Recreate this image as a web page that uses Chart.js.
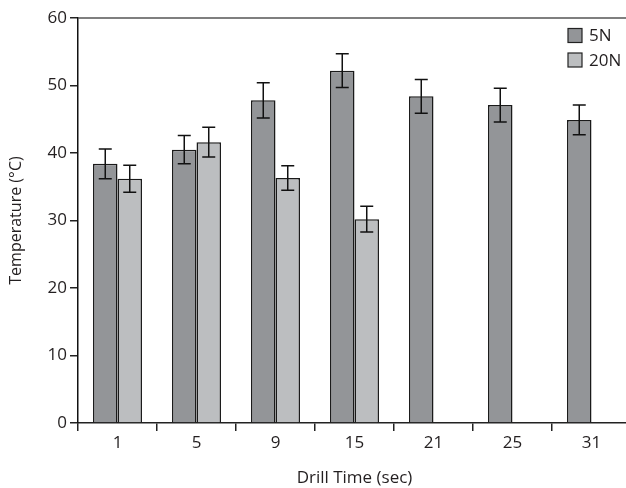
<!DOCTYPE html>
<html>
<head>
<meta charset="utf-8">
<script src="https://cdn.jsdelivr.net/npm/chart.js@4/dist/chart.umd.min.js"></script>
<style>
  html, body { margin: 0; padding: 0; background: #fff; overflow: hidden; }
  /* the original plot runs a few pixels past the right edge of the picture */
  #wrap { width: 631px; height: 488px; }
</style>
</head>
<body>
<div id="wrap"><canvas id="chart"></canvas></div>
<script>
// chart data
const drillTimes = ['1', '5', '9', '15', '21', '25', '31'];
const temp5N = [38.4, 40.5, 47.8, 52.2, 48.4, 47.1, 44.9];
const err5N = [2.2, 2.1, 2.6, 2.5, 2.5, 2.5, 2.2];
const temp20N = [36.2, 41.6, 36.3, 30.2, null, null, null];
const err20N = [2.0, 2.2, 1.8, 1.9, null, null, null];
const yTicks = [0, 10, 20, 30, 40, 50, 60];

const fontFamily = '"Open Sans", "Noto Sans", sans-serif';
const textColor = '#231f20';

// error bars drawn on top of the bars
const errorBars = {
    id: 'errorBars',
    afterDatasetsDraw(chart) {
        const ctx = chart.ctx;
        const yScale = chart.scales.y;
        chart.data.datasets.forEach((ds, i) => {
            const meta = chart.getDatasetMeta(i);
            meta.data.forEach((bar, j) => {
                const v = ds.data[j];
                const e = ds.errors[j];
                if (v == null || e == null) return;
                const top = yScale.getPixelForValue(v + e);
                const bottom = yScale.getPixelForValue(v - e);
                ctx.save();
                ctx.strokeStyle = '#111';
                ctx.lineWidth = 1.5;
                ctx.beginPath();
                ctx.moveTo(bar.x, top);
                ctx.lineTo(bar.x, bottom);
                ctx.moveTo(bar.x - 6.5, top);
                ctx.lineTo(bar.x + 6.5, top);
                ctx.moveTo(bar.x - 6.5, bottom);
                ctx.lineTo(bar.x + 6.5, bottom);
                ctx.stroke();
                ctx.restore();
            });
        });
    }
};

// top frame line and the little legend in the corner
const frameAndLegend = {
    id: 'frameAndLegend',
    afterDraw(chart) {
        const ctx = chart.ctx;
        const area = chart.chartArea;
        ctx.save();
        ctx.strokeStyle = '#555';
        ctx.lineWidth = 1.5;
        ctx.beginPath();
        ctx.moveTo(area.left, area.top);
        ctx.lineTo(area.right, area.top);
        ctx.stroke();

        ctx.font = '17px ' + fontFamily;
        ctx.textBaseline = 'middle';
        chart.data.datasets.forEach((ds, i) => {
            const y = 35.5 + i * 24.5;
            ctx.fillStyle = ds.backgroundColor;
            ctx.fillRect(568, y - 7, 14, 14);
            ctx.strokeStyle = '#222';
            ctx.lineWidth = 1.2;
            ctx.strokeRect(568, y - 7, 14, 14);
            ctx.fillStyle = textColor;
            ctx.fillText(ds.label, 589, y + 1);
        });
        ctx.restore();
    }
};

new Chart(document.getElementById('chart'), {
    type: 'bar',
    data: {
        labels: drillTimes,
        datasets: [
            {
                label: '5N',
                data: temp5N,
                errors: err5N,
                backgroundColor: '#939598',
                borderColor: '#1a1a1a',
                borderWidth: 1.5
            },
            {
                label: '20N',
                data: temp20N,
                errors: err20N,
                backgroundColor: '#bcbec0',
                borderColor: '#1a1a1a',
                borderWidth: 1.5
            }
        ]
    },
    options: {
        responsive: true,
        maintainAspectRatio: false,
        animation: false,
        categoryPercentage: 0.62,
        barPercentage: 1,
        layout: { padding: { top: 18, right: 0, left: 0, bottom: 0 } },
        plugins: {
            legend: { display: false },
            tooltip: { enabled: false }
        },
        scales: {
            x: {
                grid: {
                    offset: true,
                    drawOnChartArea: false,
                    tickLength: 8,
                    color: '#222',
                    lineWidth: 1.5
                },
                border: { display: true, color: '#222', width: 1.5 },
                ticks: {
                    color: textColor,
                    font: { family: fontFamily, size: 17 },
                    padding: 2
                },
                title: {
                    display: true,
                    text: 'Drill Time (sec)',
                    color: textColor,
                    font: { family: fontFamily, size: 17 },
                    padding: { top: 6, bottom: 0 }
                },
                afterFit(scale) { scale.height = 65; }
            },
            y: {
                min: 0,
                max: 60,
                afterBuildTicks(scale) {
                    scale.ticks = yTicks.map(v => ({ value: v }));
                },
                grid: {
                    drawOnChartArea: false,
                    tickLength: 8,
                    color: '#222',
                    lineWidth: 1.5
                },
                border: { display: true, color: '#111', width: 1.5 },
                ticks: {
                    color: textColor,
                    font: { family: fontFamily, size: 17 },
                    padding: 3
                },
                title: {
                    display: true,
                    text: 'Temperature (°C)',
                    color: textColor,
                    font: { family: fontFamily, size: 16 },
                    padding: { top: 7, bottom: 0 }
                },
                afterFit(scale) { scale.width = 78; }
            }
        }
    },
    plugins: [errorBars, frameAndLegend]
});
</script>
</body>
</html>
